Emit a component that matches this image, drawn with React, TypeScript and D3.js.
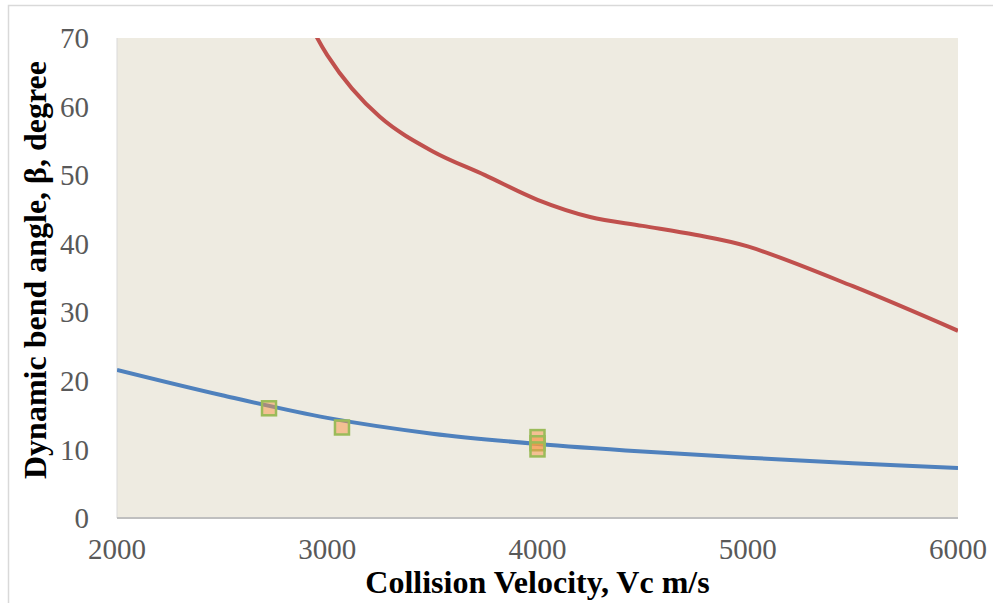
import React from 'react';
import * as d3 from 'd3';

// values
const velocity = [2000, 2500, 3000, 3500, 4000, 4500, 5000, 5500, 6000];
const betaTheory = [21.6, 17.9, 14.6, 12.3, 10.8, 9.7, 8.8, 8.0, 7.3];

const velocityUpper = [2500, 2750, 3000, 3250, 3500, 3750, 4000, 4250, 4500, 4750, 5000, 5500, 6000];
const betaUpper = [104, 84, 67.5, 58.5, 53.5, 50, 46.4, 43.9, 42.6, 41.3, 39.6, 33.8, 27.3];

const expVelocity = [2723, 3070, 4000, 4000, 4000];
const expBeta = [16.0, 13.2, 11.8, 10.9, 10.0];

const xTicks = [2000, 3000, 4000, 5000, 6000];
const yTicks = [0, 10, 20, 30, 40, 50, 60, 70];

const W = 993;
const H = 603;
const margin = { left: 117, right: 35, top: 38, bottom: 85 };

export default function App() {
  const x = d3.scaleLinear().domain([2000, 6000]).range([margin.left, W - margin.right]);
  const y = d3.scaleLinear().domain([0, 70]).range([H - margin.bottom, margin.top]);

  const line = d3.line<[number, number]>()
    .x((d) => x(d[0]))
    .y((d) => y(d[1]))
    .curve(d3.curveCatmullRom.alpha(0.5));

  const blue = line(velocity.map((v, i) => [v, betaTheory[i]]));
  const red = line(velocityUpper.map((v, i) => [v, betaUpper[i]]));

  const x0 = x(2000), x1 = x(6000), y0 = y(0), y1 = y(70);
  const font = '"Liberation Serif", "Times New Roman", serif';
  const sq = 14;

  return (
    <svg width={W} height={H} style={{ position: 'absolute', left: 0, top: 0, background: '#fff' }}>
      <defs>
        <clipPath id="plot">
          <rect x={x0} y={y1} width={x1 - x0} height={y0 - y1} />
        </clipPath>
      </defs>
      {/* outer chart border, partly outside */}
      <rect x={8.5} y={5.5} width={W + 20} height={H + 20} fill="none" stroke="#d9d9d9" strokeWidth={1.5} />
      {/* title remnant, cut by the top edge as in the source */}
      <text x={603} y={-8} fontFamily={font} fontSize={30} fill="#000">(</text>
      <text x={936} y={-8} fontFamily={font} fontSize={30} fill="#000">)</text>

      <rect x={x0} y={y1} width={x1 - x0} height={y0 - y1} fill="#EEEBE1" />
      <line x1={x0} x2={x0} y1={y1} y2={y0} stroke="#d9d9d9" strokeWidth={1} />
      <line x1={x0} x2={x1} y1={y0} y2={y0} stroke="#bfbfbf" strokeWidth={2} />

      <g clipPath="url(#plot)">
        <path d={blue ?? ''} fill="none" stroke="#4F81BD" strokeWidth={4} />
        <path d={red ?? ''} fill="none" stroke="#C0504D" strokeWidth={4} />
      </g>

      {expVelocity.map((v, i) => (
        <rect key={i} x={x(v) - sq / 2} y={y(expBeta[i]) - sq / 2} width={sq} height={sq}
          fill="#F79646" fillOpacity={0.5} stroke="#9BBB59" strokeWidth={2.5} />
      ))}

      {yTicks.map((t) => (
        <text key={t} x={89} y={y(t)} dy="0.35em" textAnchor="end" fontFamily={font} fontSize={29} fill="#595959">{t}</text>
      ))}
      {xTicks.map((t) => (
        <text key={t} x={x(t)} y={559} textAnchor="middle" fontFamily={font} fontSize={29} fill="#595959">{t}</text>
      ))}

      <text x={(x0 + x1) / 2} y={593} textAnchor="middle" fontFamily={font} fontSize={32} fontWeight="bold" fill="#000">
        Collision Velocity, Vc m/s
      </text>
      <text transform={`translate(46,270) rotate(-90)`} textAnchor="middle" fontFamily={font} fontSize={32} fontWeight="bold" fill="#000">
        Dynamic bend angle, β, degree
      </text>
    </svg>
  );
}
